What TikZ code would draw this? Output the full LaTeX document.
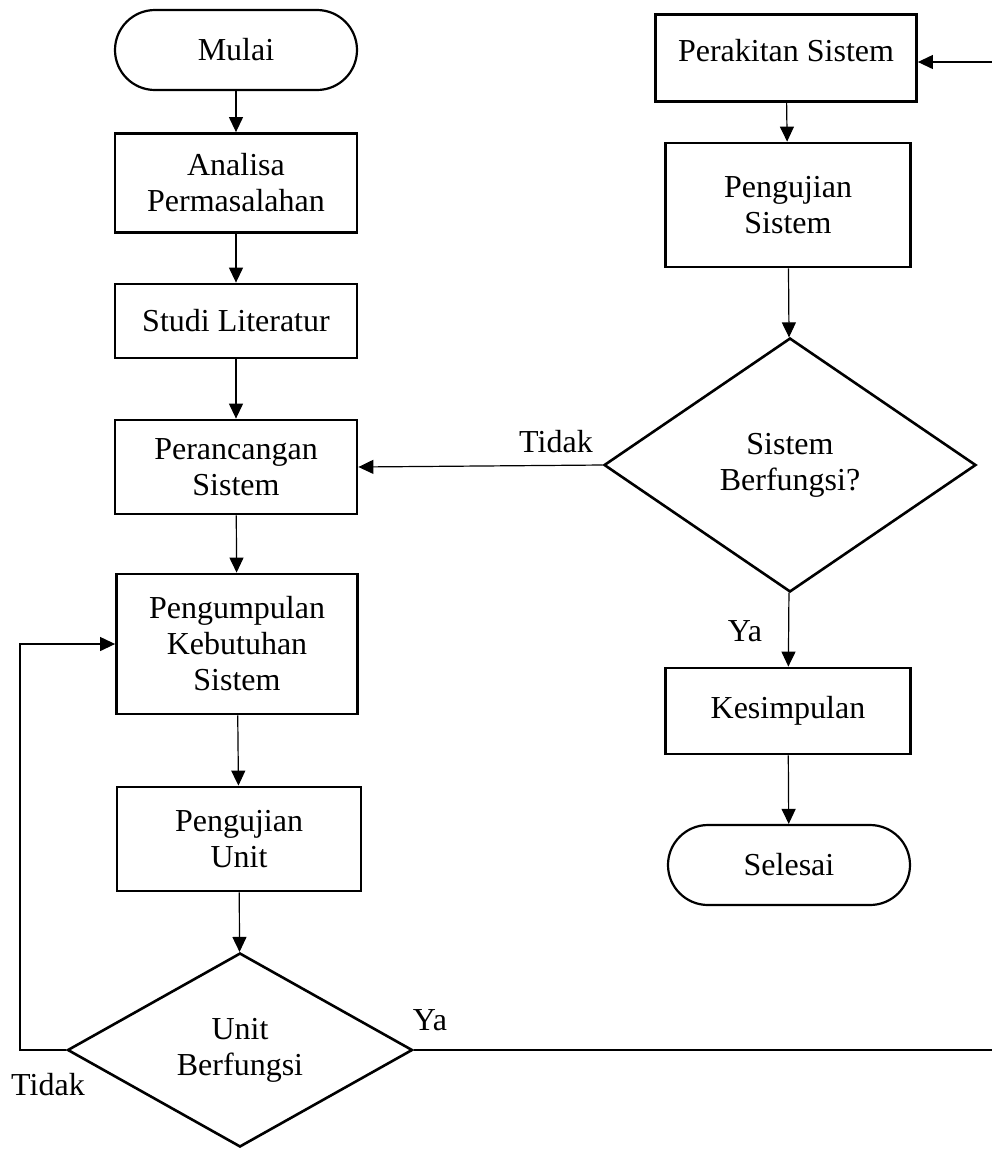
\documentclass[tikz,border=0pt]{standalone}
\usepackage{fontspec}
\setmainfont{Liberation Serif}
\usetikzlibrary{shapes.geometric,arrows.meta}
\begin{document}
\begin{tikzpicture}[x=0.5pt,y=-0.5pt,
    every node/.style={font=\fontsize{16}{18}\selectfont, align=center, inner sep=0pt},
    box/.style={rectangle, draw, line width=1.4pt},
    term/.style={rectangle, rounded corners=20pt, draw, line width=1.1pt},
    decide/.style={diamond, draw, line width=1.3pt},
    arrow/.style={-{Triangle[length=7.5pt,width=7pt]}, line width=0.6pt}]
    \useasboundingbox (0,0) rectangle (992,1169);
    \node [term, minimum width=121pt, minimum height=40pt] (mulai) at (236,50) {Mulai};
    \node [box, minimum width=121pt, minimum height=49.5pt] (analisa) at (236,183) {Analisa\\Permasalahan};
    \node [box, minimum width=121pt, minimum height=37pt] (studi) at (236,321) {Studi Literatur};
    \node [box, minimum width=121pt, minimum height=47pt] (rancang) at (236,467) {Perancangan\\Sistem};
    \node [box, minimum width=120.5pt, minimum height=70pt] (kumpul) at (237,644) {Pengumpulan\\Kebutuhan\\Sistem};
    \node [box, minimum width=122pt, minimum height=52pt] (ujiunit) at (239,839) {Pengujian\\Unit};
    \node [decide, minimum width=172.5pt, minimum height=97pt] (unit) at (240,1050) {Unit\\Berfungsi};
    \node [box, minimum width=130.5pt, minimum height=43.5pt, text depth=8pt] (rakit) at (786,58) {Perakitan Sistem};
    \node [box, minimum width=122.5pt, minimum height=62pt] (ujisis) at (788,205) {Pengujian\\Sistem};
    \node [decide, minimum width=186pt, minimum height=127pt] (sisfungsi) at (790,465) {Sistem\\Berfungsi?};
    \node [box, minimum width=122.5pt, minimum height=43pt] (simpul) at (788,711) {Kesimpulan};
    \node [term, minimum width=121pt, minimum height=40pt] (selesai) at (789,865) {Selesai};
    \node (tidaksis) at (556,442) {Tidak};
    \node (yasis) at (745,631) {Ya};
    \node (yaunit) at (430,1020) {Ya};
    \node (tidakunit) at (48,1085) {Tidak};
    \coordinate (kiri) at (20,1050);
    \coordinate (kanan) at (994,1050);
    \coordinate (atas) at (994,62);
    \draw [arrow] (mulai) -- (analisa);
    \draw [arrow] (analisa) -- (studi);
    \draw [arrow] (studi) -- (rancang);
    \draw [arrow] (rancang) -- (kumpul);
    \draw [arrow] (kumpul) -- (ujiunit);
    \draw [arrow] (ujiunit) -- (unit);
    \draw [arrow] (unit.west) -- (kiri) |- (kumpul.west);
    \draw [arrow] (unit.east) -- (kanan) -- (atas) -- (rakit.east |- atas);
    \draw [arrow] (rakit) -- (ujisis);
    \draw [arrow] (ujisis) -- (sisfungsi);
    \draw [arrow] (sisfungsi.west) -- (rancang.east);
    \draw [arrow] (sisfungsi) -- (simpul);
    \draw [arrow] (simpul) -- (selesai);
\end{tikzpicture}
\end{document}
